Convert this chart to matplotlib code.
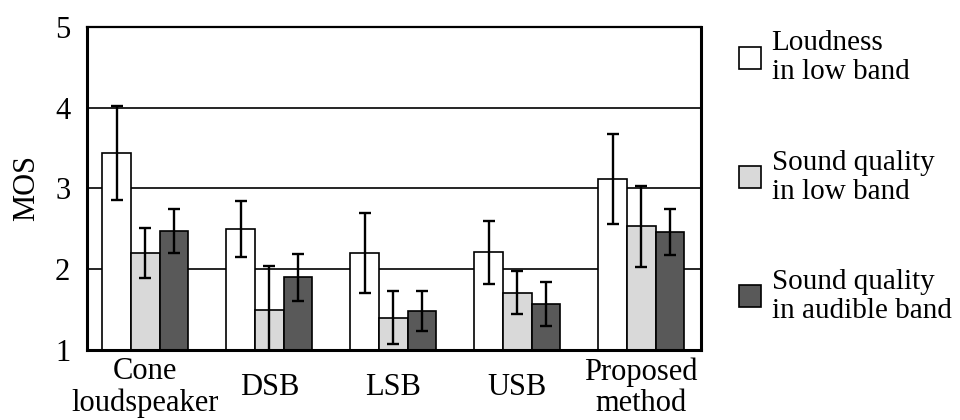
import numpy as np
import matplotlib
matplotlib.use("Agg")
import matplotlib.pyplot as plt
from matplotlib.patches import Patch

plt.rcParams['font.family'] = ['Liberation Serif', 'DejaVu Serif']

categories = ["Cone\nloudspeaker", "DSB", "LSB", "USB", "Proposed\nmethod"]
series_names = ["Loudness\nin low band", "Sound quality\nin low band",
                "Sound quality\nin audible band"]

loud_low = [3.44, 2.50, 2.20, 2.21, 3.12]
loud_low_err = [0.58, 0.35, 0.50, 0.39, 0.56]
sq_low = [2.20, 1.49, 1.40, 1.71, 2.53]
sq_low_err = [0.31, 0.55, 0.33, 0.27, 0.50]
sq_aud = [2.47, 1.90, 1.48, 1.57, 2.46]
sq_aud_err = [0.27, 0.29, 0.25, 0.27, 0.29]

colors = ["#ffffff", "#d9d9d9", "#595959"]

fig = plt.figure(figsize=(9.6, 4.2), dpi=100)
ax = fig.add_axes([0.0906, 0.1667, 0.730 - 0.0906, 0.936 - 0.1667])

x = np.arange(len(categories))
w = 0.23
vals = [loud_low, sq_low, sq_aud]
errs = [loud_low_err, sq_low_err, sq_aud_err]

for y in [2, 3, 4]:
    ax.axhline(y, color="black", lw=1.2, zorder=1)

for i in range(3):
    ax.bar(x + (i - 1) * w, vals[i], w, bottom=0, color=colors[i],
           edgecolor="black", lw=1.2, zorder=2)
    ax.errorbar(x + (i - 1) * w, vals[i], yerr=errs[i], fmt="none",
                ecolor="black", elinewidth=1.7, capsize=4.5, capthick=1.7,
                zorder=3)

ax.set_ylim(1, 5)
ax.set_xlim(-0.47, 4.48)
ax.set_yticks([1, 2, 3, 4, 5])
ax.set_xticks(x)
ax.set_xticklabels(categories, fontsize=22, linespacing=1.1)
for lbl in ax.get_xticklabels():
    lbl.set_va("center")
ax.tick_params(axis="x", length=0, pad=27)
ax.tick_params(axis="y", length=0, pad=12, labelsize=22)
ax.set_ylabel("MOS", fontsize=22, labelpad=10)

for s in ["left", "bottom", "right"]:
    ax.spines[s].set_linewidth(2.2)
ax.spines["top"].set_linewidth(1.6)

handles = [Patch(facecolor=c, edgecolor="black", lw=1.2) for c in colors]
leg = fig.legend(handles, series_names, loc="upper left",
                 bbox_to_anchor=(0.742, 0.99), frameon=False, fontsize=21,
                 handlelength=0.78, handleheight=0.78, handletextpad=0.35,
                 labelspacing=2.2)
for t in leg.get_texts():
    t.set_linespacing(1.15)

fig.savefig("out.png", dpi=100)
